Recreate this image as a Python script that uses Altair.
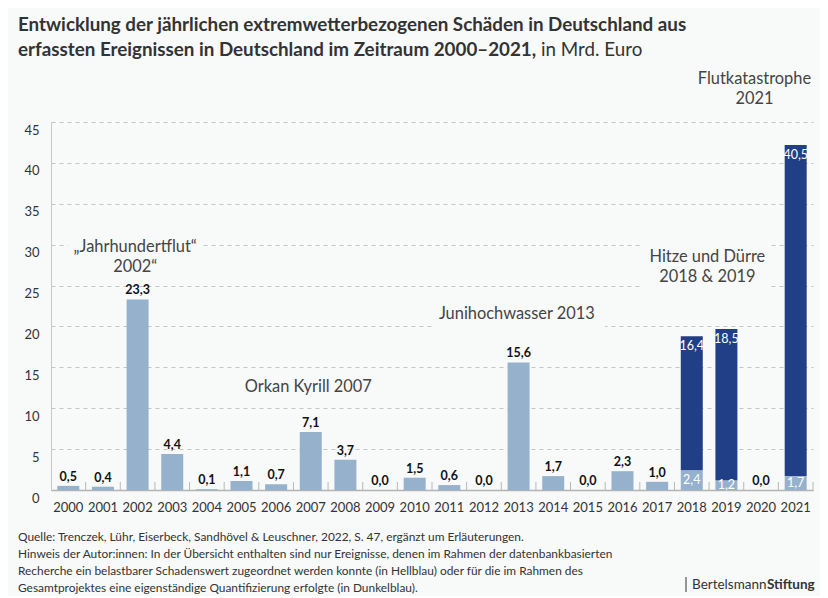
import altair as alt
import pandas as pd

# ---------------- data ----------------
years = list(range(2000, 2022))
light = [0.5, 0.4, 23.3, 4.4, 0.1, 1.1, 0.7, 7.1, 3.7, 0.0, 1.5, 0.6, 0.0,
         15.6, 1.7, 0.0, 2.3, 1.0, 2.4, 1.2, 0.0, 1.7]
dark = [0, 0, 0, 0, 0, 0, 0, 0, 0, 0, 0, 0, 0, 0, 0, 0, 0, 0,
        16.4, 18.5, 0.0, 40.5]

ann_text = ["„Jahrhundertflut“\n2002“", "Orkan Kyrill 2007", "Junihochwasser 2013",
            "Hitze und Dürre\n2018 & 2019", "Flutkatastrophe\n2021"]
ann_slot = [2.43, 7.43, 13.45, 18.95, 20.31]
ann_value = [29.7, 12.6, 21.5, 28.5, 50.2]

box_x0 = [0.49, 11.03, 17.09]
box_x1 = [4.39, 15.99, 20.76]
box_y0 = [26.5, 19.6, 24.0]
box_y1 = [31.0, 22.8, 31.0]

title1 = "Entwicklung der jährlichen extremwetterbezogenen Schäden in Deutschland aus"
title2b = "erfassten Ereignissen in Deutschland im Zeitraum 2000–2021,"
title2n = "in Mrd. Euro"
footer = ("Quelle: Trenczek, Lühr, Eiserbeck, Sandhövel & Leuschner, 2022, S. 47, ergänzt um Erläuterungen.\n"
          "Hinweis der Autor:innen: In der Übersicht enthalten sind nur Ereignisse, denen im Rahmen der datenbankbasierten\n"
          "Recherche ein belastbarer Schadenswert zugeordnet werden konnte (in Hellblau) oder für die im Rahmen des\n"
          "Gesamtprojektes eine eigenständige Quantifizierung erfolgte (in Dunkelblau).")

LIGHT = "#95b1cb"
DARK = "#213f86"
BG = "#f8f9f9"
FONT = "Lato"
W, H = 762, 368

def fmt(v):
    return f"{v:.1f}".replace(".", ",")

ylist = [str(y) for y in years]

rows = []
for y, l, d in zip(ylist, light, dark):
    rows.append(dict(year=y, seg="hell", lo=0.0, hi=l))
    if d > 0:
        rows.append(dict(year=y, seg="dunkel", lo=l, hi=l + d))
bars_df = pd.DataFrame(rows)

black_df = pd.DataFrame([dict(year=y, pos=l, txt=fmt(l))
                         for y, l, d in zip(ylist, light, dark) if d == 0])
wl_df = pd.DataFrame([dict(year=y, pos=l / 2, txt=fmt(l))
                      for y, l, d in zip(ylist, light, dark) if d > 0])
wd_df = pd.DataFrame([dict(year=y, pos=l + d, txt=fmt(d))
                      for y, l, d in zip(ylist, light, dark) if d > 0])
ann_df = pd.DataFrame(dict(txt=ann_text, slot=ann_slot, val=ann_value))
box_df = pd.DataFrame(dict(x0=box_x0, x1=box_x1, y0=box_y0, y1=box_y1))
tick_df = pd.DataFrame(dict(b=list(range(1, len(years) + 1))))

xscale = alt.Scale(domain=ylist, paddingInner=0.365, paddingOuter=0.1825)
yscale = alt.Scale(domain=[0, 45], nice=False)
slotscale = alt.Scale(domain=[0, len(years)], nice=False, zero=False)

def xband(axis=None):
    if axis is None:
        return alt.X("year:N", scale=xscale, axis=None)
    return alt.X("year:N", scale=xscale, axis=axis, title=None)

xaxis = alt.Axis(labelAngle=0, ticks=False, labelPadding=11, labelFont=FONT,
                 labelFontSize=13, labelColor="#333333", domainColor="#b3b3b3",
                 domainWidth=1.5, grid=False)
yaxis = alt.Axis(values=list(range(0, 50, 5)), ticks=False, labelPadding=12,
                 labelFont=FONT, labelFontSize=13, labelColor="#333333",
                 labelOffset=8, domainColor="#c8c8c8", grid=True,
                 gridColor="#c4c4c4", gridDash=[4, 4], gridWidth=1)

boxes = alt.Chart(box_df).mark_rect(color=BG).encode(
    x=alt.X("x0:Q", scale=slotscale, axis=None), x2="x1",
    y=alt.Y("y0:Q", scale=yscale, title=None), y2="y1")

bars = alt.Chart(bars_df).mark_bar().encode(
    x=xband(xaxis),
    y=alt.Y("hi:Q", scale=yscale, axis=yaxis, title=None), y2="lo",
    color=alt.Color("seg:N", scale=alt.Scale(domain=["hell", "dunkel"],
                                             range=[LIGHT, DARK]), legend=None))

ticks = alt.Chart(tick_df).mark_rule(color="#b8b8b8", strokeWidth=1).encode(
    x=alt.X("b:Q", scale=slotscale, axis=None),
    y=alt.value(H), y2=alt.value(H - 8))

black_lbl = alt.Chart(black_df).mark_text(
    font=FONT, fontSize=12.5, fontWeight="bold", color="#111111",
    baseline="bottom", dy=-2).encode(
    x=xband(), y=alt.Y("pos:Q", scale=yscale, title=None), text="txt:N")

wl_lbl = alt.Chart(wl_df).mark_text(
    font=FONT, fontSize=12.5, color="white", baseline="middle").encode(
    x=xband(), y=alt.Y("pos:Q", scale=yscale, title=None), text="txt:N")

wd_lbl = alt.Chart(wd_df).mark_text(
    font=FONT, fontSize=12.5, color="white", baseline="top", dy=4).encode(
    x=xband(), y=alt.Y("pos:Q", scale=yscale, title=None), text="txt:N")

ann = alt.Chart(ann_df).mark_text(
    font=FONT, fontSize=16.4, color="#444444", baseline="middle", align="center",
    lineBreak="\n", lineHeight=20).encode(
    x=alt.X("slot:Q", scale=slotscale, axis=None),
    y=alt.Y("val:Q", scale=yscale, title=None), text="txt:N")

one = pd.DataFrame({"k": [0]})

def ptext(txt, x, y, size, weight="normal", align="left", lh=None):
    kw = dict(text=txt, font=FONT, fontSize=size, fontWeight=weight,
              color="#333333", align=align, baseline="alphabetic")
    if lh:
        kw.update(lineBreak="\n", lineHeight=lh)
    return alt.Chart(one).mark_text(**kw).encode(x=alt.value(x), y=alt.value(y))

t1 = ptext(title1, -33, -91, 18.8, "bold")
t2 = ptext(title2b, -33, -66, 18.8, "bold")
t3 = ptext(title2n, 490, -66, 18.8)
foot = ptext(footer, -33, 419, 11.9, lh=17)
logo1 = ptext("Bertelsmann", 641, 467, 13.5)
logo2 = ptext("Stiftung", 716, 467, 13.5, "bold")
logobar = alt.Chart(one).mark_rule(color="#333333").encode(
    x=alt.value(635), y=alt.value(455), y2=alt.value(470))

chart = alt.layer(
    boxes, bars, ticks, black_lbl, wl_lbl, wd_lbl, ann,
    t1, t2, t3, foot, logo1, logo2, logobar
).resolve_scale(x="independent").properties(
    width=W, height=H,
    autosize=alt.AutoSizeParams(type="none"),
    padding={"left": 43, "top": 114, "right": 7, "bottom": 106},
    background=BG,
).configure_view(stroke=None)

chart.save("out.html", embed_options={"renderer": "svg", "actions": False})
